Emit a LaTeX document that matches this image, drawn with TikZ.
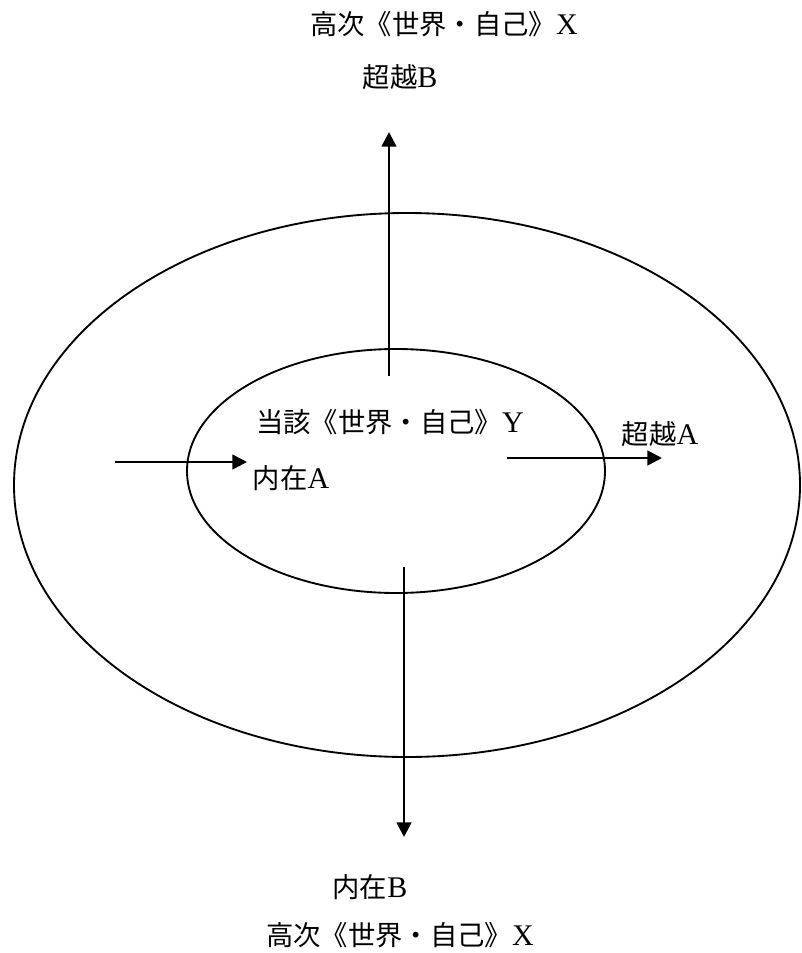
\documentclass[tikz,border=0pt]{standalone}
\usepackage{fontspec}
\setmainfont{Liberation Serif}
\newfontfamily\cjk{Noto Sans CJK JP}
\usetikzlibrary{arrows.meta,shapes.geometric}
\newcommand{\jp}[1]{{\fontsize{20.5}{24}\selectfont\cjk #1}}
\begin{document}
\begin{tikzpicture}[x=0.75pt,y=-0.75pt,
  ring/.style={draw,ellipse,line width=1.4pt,inner sep=0pt},
  conn/.style={line width=2pt,-{Triangle[length=11pt,width=11pt]}},
  lbl/.style={inner sep=0pt,font=\fontsize{22.5}{24}\selectfont}]
\useasboundingbox (0,0) rectangle (801,953);
\node[ring,minimum width=589.5pt,minimum height=408pt] (outer) at (407,485) {};
\node[ring,minimum width=313.5pt,minimum height=183pt] (inner) at (396,471) {};
% labels
\node[lbl] (topX) at (444,24) {\jp{高次《世界・自己》}X};
\node[lbl] (chB) at (400,77) {\jp{超越}B};
\node[lbl] (curY) at (390,422) {\jp{当該《世界・自己》}Y};
\node[lbl] (naiA) at (291,478) {\jp{内在}A};
\node[lbl] (chA) at (660,434) {\jp{超越}A};
\node[lbl] (naiB) at (370,887) {\jp{内在}B};
\node[lbl] (botX) at (400,935) {\jp{高次《世界・自己》}X};
% arrow ends
\coordinate (upS) at (389,376);
\coordinate (upE) at (389,132);
\coordinate (dnS) at (404,567);
\coordinate (dnE) at (404,837);
\coordinate (lS) at (115,462);
\coordinate (lE) at (247,462);
\coordinate (rS) at (507,458);
\coordinate (rE) at (662,458);
\draw[conn] (upS) -- (upE);
\draw[conn] (dnS) -- (dnE);
\draw[conn] (lS) -- (lE);
\draw[conn] (rS) -- (rE);
\end{tikzpicture}
\end{document}
